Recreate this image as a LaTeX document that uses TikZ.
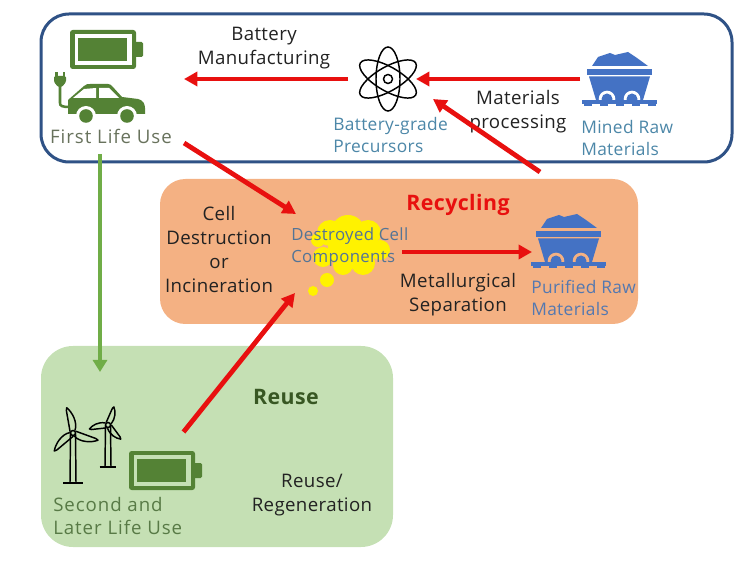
\documentclass[tikz,border=0pt]{standalone}
\usepackage{fontspec}
\usepackage{tikz}
\usetikzlibrary{arrows.meta}
\setmainfont{Open Sans}[LetterSpace=2]
\newfontfamily\widefont{Open Sans}[LetterSpace=5]

\definecolor{frameblue}{RGB}{47,82,134}
\definecolor{recycleorange}{RGB}{244,177,131}
\definecolor{reusegreen}{RGB}{197,224,180}
\definecolor{icongreen}{RGB}{84,130,53}
\definecolor{arrowgreen}{RGB}{112,173,71}
\definecolor{arrowred}{RGB}{232,16,15}
\definecolor{cartblue}{RGB}{68,114,196}
\definecolor{inkblack}{RGB}{34,34,34}
\definecolor{firstgrey}{RGB}{104,114,92}
\definecolor{secondgreen}{RGB}{88,122,70}
\definecolor{tealtext}{RGB}{76,135,168}
\definecolor{purifiedblue}{RGB}{84,120,176}
\definecolor{destroyedblue}{RGB}{84,116,150}
\definecolor{reusedark}{RGB}{56,87,35}

\tikzset{
  panel/.style={rectangle, inner sep=0pt, outer sep=0pt},
  iconbox/.style={rectangle, inner sep=0pt, outer sep=0pt},
  labeltext/.style={inner sep=0.75pt, text=inkblack, align=center, font=\fontsize{14}{18}\selectfont},
  lefttext/.style={labeltext, anchor=west, align=left, font=\fontsize{13}{16.2}\selectfont},
  widetext/.style={labeltext, font=\fontsize{14}{17.2}\selectfont\widefont},
  headtext/.style={labeltext, font=\fontsize{16}{18}\selectfont\bfseries},
  redarrow/.style={draw=arrowred, line width=3.6pt, -{Triangle[length=10pt,width=10.5pt]}},
  greenarrow/.style={draw=arrowgreen, line width=3.6pt, -{Triangle[length=9pt,width=10.5pt]}},
  pics/batteryicon/.style={code={
    \fill [icongreen, rounded corners=2pt] (0,0) rectangle (66,39) ;
    \fill [icongreen, rounded corners=1pt] (64,12) rectangle (73,27) ;
    \fill [#1] (4.7,4) rectangle (61.7,35) ;
    \fill [icongreen] (8,8) rectangle (57,31) ;
  }},
  pics/minecart/.style={code={
    \fill [cartblue] (10,14) -- (16,5) -- (28,1) -- (33,3) -- (46,0) -- (55,6) -- (66,14) -- cycle ;
    \fill [cartblue] (5,17) rectangle (70,23) ;
    \fill [cartblue] (7,24.5) -- (68,24.5) -- (61,48) -- (14,48) -- cycle ;
    \fill [#1] (25,47) circle (8.3) ;
    \fill [#1] (50,47) circle (8.3) ;
    \fill [cartblue] (25,47) circle (5.5) ;
    \fill [cartblue] (50,47) circle (5.5) ;
    \fill [#1] (0,52) rectangle (75,56) ;
    \fill [cartblue] (0,48) rectangle (75,52) ;
    \foreach \tx in {2,18,34,50,66} {
      \fill [cartblue] (\tx,48) rectangle ++(8,6) ;
    }
  }},
  pics/turbine/.style n args={3}{code={
    \draw [black, line width=1.1pt] (-2.5,0) -- (-3,#3) (2.5,0) -- (3,#3) ;
    \draw [black, line width=1.1pt] (-0.2*#3,#3) -- (0.2*#3,#3) ;
    \draw [black, line width=1.1pt] (0,0) circle (2.5) ;
    \foreach \ang in {0,120,240} {
      \draw [black, line width=1.1pt, rotate=#1+\ang, line join=round]
        (2,2.5) .. controls (9,0.28*#2) and (0.8*#2,0.16*#2) .. (#2,0) -- (0.9*#2,-1) -- (2,-2.5) ;
    }
  }}
}

\begin{document}
\begin{tikzpicture}[x=0.75pt,y=0.75pt,yscale=-1,xscale=1]
\useasboundingbox (0,0) rectangle (746,566);

% Panels
\node (lifecycle) [panel, draw=frameblue, line width=2.25pt, fill=white, rounded corners=21pt, minimum width=518.25pt, minimum height=111pt] at (386.5,88) {};
\node (recyclebox) [panel, fill=recycleorange, rounded corners=19pt, minimum width=358.5pt, minimum height=108.75pt] at (399,251.5) {};
\node (reusebox) [panel, fill=reusegreen, rounded corners=24pt, minimum width=264pt, minimum height=150.75pt] at (217,446.5) {};

% Battery icons
\node (firstbattery) [iconbox, minimum width=54.75pt, minimum height=29.25pt] at (106.5,49.5) {};
\pic [yscale=-1] at (firstbattery.north west) {batteryicon=white};
\node (secondbattery) [iconbox, minimum width=54.75pt, minimum height=29.25pt] at (165.5,470.5) {};
\pic [yscale=-1] at (secondbattery.north west) {batteryicon=reusegreen};

% Car with plug
\fill [icongreen] (68,114) -- (68,100) -- (76,93) -- (84,86) .. controls (86,84) and (88,84) .. (90,84) -- (108,84) .. controls (110,84) and (111,85) .. (112,86) -- (122,97) -- (138,99) .. controls (143,100) and (145,104) .. (145,108) -- (145,114) -- cycle ;
\fill [white] (73,98) -- (84,89) -- (96,88) -- (96,98) -- cycle ;
\fill [white] (99,88) -- (109,88) -- (119,98) -- (99,98) -- cycle ;
\fill [white] (86,116) circle (10) ;
\fill [white] (127,116) circle (10) ;
\fill [icongreen] (86,116) circle (6.8) ;
\fill [icongreen] (127,116) circle (6.8) ;
\draw [icongreen, line width=1.9pt] (60,84) -- (60,103) .. controls (60,106) and (62,107) .. (70,107) ;
\fill [icongreen, rounded corners=1pt] (54,76) -- (66,76) -- (66,82) -- (62,87) -- (58,87) -- (54,82) -- cycle ;
\fill [icongreen] (55,72) rectangle (57.5,77) ;
\fill [icongreen] (62.5,72) rectangle (65,77) ;

% Atom
\node (atom) [iconbox, minimum width=42pt, minimum height=51pt] at (388,79) {};
\draw [black, line width=1.1pt] (atom.center) circle (4.5) ;
\foreach \tilt in {0,60,120} {
  \draw [black, line width=1.1pt] (atom.center) ellipse [x radius=12, y radius=32, rotate=\tilt] ;
}

% Mine carts
\node (minedcart) [iconbox, minimum width=56.25pt, minimum height=40.5pt] at (619.5,79) {};
\pic [yscale=-1] at (minedcart.north west) {minecart=white};
\node (purifiedcart) [iconbox, minimum width=56.25pt, minimum height=40.5pt] at (568.5,241) {};
\pic [yscale=-1] at (purifiedcart.north west) {minecart=recycleorange};

% Thought cloud
\foreach \cx/\cy/\cr in {348/232/17, 330/233/13, 368/233/13, 380/250/10, 363/263/12, 343/265/10, 323/257/10, 318/240/7, 350/247/22} {
  \fill [yellow] (\cx,\cy) circle (\cr) ;
}
\fill [yellow] (327,280) circle (7) ;
\fill [yellow] (313,291) circle (5) ;

% Wind turbines
\pic [yscale=-1] at (108,425) {turbine={-72}{19}{42}};
\pic [yscale=-1] at (73,433) {turbine={-104}{26}{50}};

% Text Nodes
\node (firstlife) [widetext, text=firstgrey] at (111,136) {First Life Use};
\node (manufacturing) [labeltext] at (264,48) {Battery\\Manufacturing};
\node (precursors) [lefttext, text=tealtext] at (332,135) {Battery-grade\\Precursors};
\node (processing) [labeltext] at (518,112) {Materials\\processing};
\node (minedraw) [lefttext, text=tealtext] at (580,138) {Mined Raw\\Materials};
\node (recycling) [headtext, text=arrowred] at (458,205) {Recycling};
\node (destruction) [labeltext] at (219,250) {Cell\\Destruction\\or\\Incineration};
\node (destroyed) [lefttext, inner sep=0pt, text=destroyedblue, font=\fontsize{12.6}{16.2}\selectfont] at (291,247) {Destroyed Cell\\Components};
\node (separation) [labeltext] at (458,295) {Metallurgical\\Separation};
\node (purifiedraw) [lefttext, text=purifiedblue] at (530,298) {Purified Raw\\Materials};
\node (reuse) [headtext, text=reusedark] at (286,397) {Reuse};
\node (regeneration) [labeltext] at (312,495) {Reuse/\\Regeneration};
\node (secondlife) [widetext, anchor=west, align=left, text=secondgreen] at (52,516) {Second and\\Later Life Use};

% Arrows
\draw [redarrow] ([shift={(-12,0)}]atom.west) -- ([shift={(41,29.5)}]firstbattery.east) ;
\draw [redarrow] ([shift={(-2,0)}]minedcart.west) -- (atom.east) ;
\draw [redarrow] ([shift={(9,-42)}]purifiedcart.north west) -- ([shift={(17,-14)}]atom.south east) ;
\draw [redarrow] ([shift={(11,7)}]firstlife.east) -- ([shift={(5,-33)}]destroyed.west) ;
\draw [redarrow] ([shift={(111,5)}]destroyed.west) -- ([shift={(1,11)}]purifiedcart.west) ;
\draw [redarrow] ([shift={(18,-19)}]secondbattery.north) -- ([shift={(4,46)}]destroyed.west) ;
\draw [greenarrow] ([shift={(59,-8)}]lifecycle.south west) -- ([shift={(59,26)}]reusebox.north west) ;

\end{tikzpicture}
\end{document}
